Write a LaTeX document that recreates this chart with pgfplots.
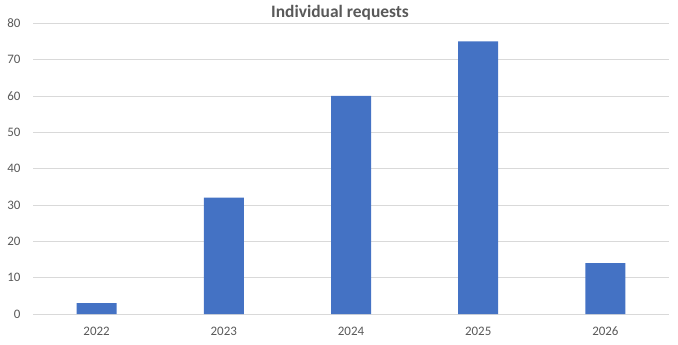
\documentclass[border=0pt]{standalone}
\usepackage{pgfplots}
\pgfplotsset{compat=1.18}
\usepackage{fontspec}
\setmainfont{Carlito}
\definecolor{barblue}{HTML}{4472C4}
\definecolor{txtgray}{HTML}{595959}
\definecolor{gridgray}{HTML}{D9D9D9}
\begin{document}
\begin{tikzpicture}[x=1bp,y=1bp]
\path (0,0) rectangle (678,344);
\node[font=\fontsize{17.5}{19}\selectfont\bfseries, text=txtgray] at (340,331.5) {Individual requests};
\begin{axis}[
  at={(33bp,30bp)}, anchor=south west,
  scale only axis, width=636bp, height=290.7bp,
  xmin=-0.5, xmax=4.5, ymin=0, ymax=80,
  ytick={0,10,...,80},
  xtick={0,1,2,3,4},
  xticklabels={2022,2023,2024,2025,2026},
  axis x line*=bottom, axis y line*=left,
  x axis line style={draw=gridgray, line width=0.8pt, -},
  y axis line style={draw=none},
  ymajorgrids, grid style={draw=gridgray, line width=0.8pt},
  major tick length=0pt,
  tick label style={font=\fontsize{13}{15}\selectfont, text=txtgray},
  /pgf/number format/assume math mode=true,
  yticklabel style={xshift=-9bp},
  xticklabel style={anchor=base, yshift=-21.5bp},
  clip=false,
]
\addplot[ybar, bar width=40bp, fill=barblue, draw=none, bar shift=0pt] coordinates {(0,3) (1,32) (2,60) (3,75) (4,14)};
\end{axis}
\end{tikzpicture}
\end{document}
